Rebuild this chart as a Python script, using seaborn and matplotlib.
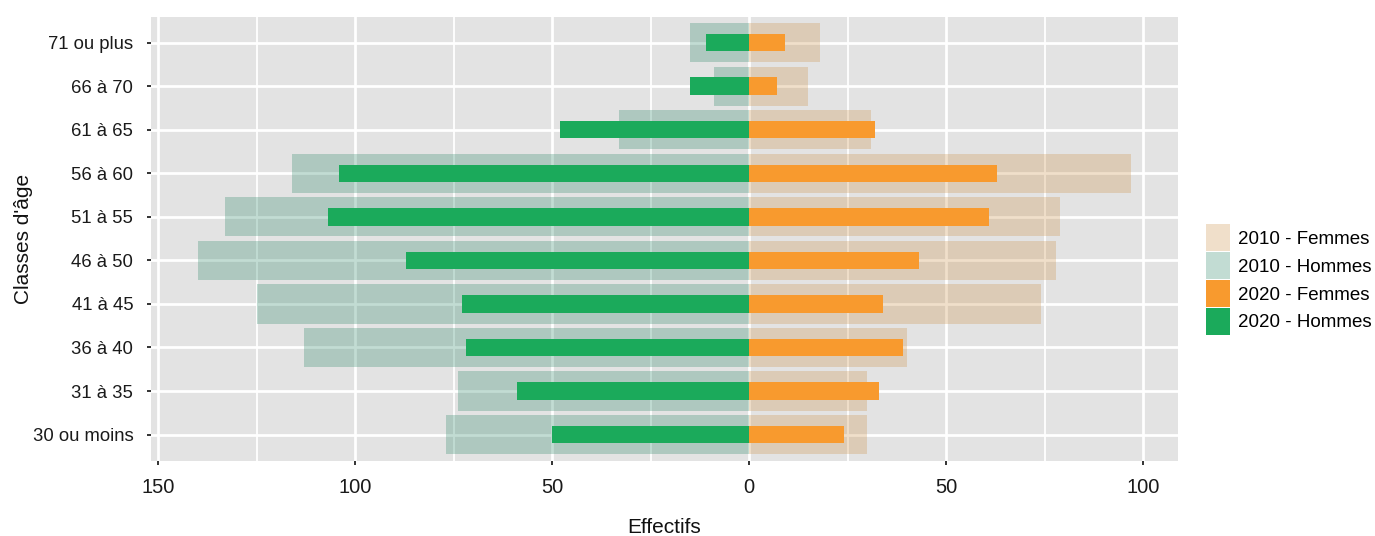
import pandas as pd
import matplotlib
matplotlib.use("Agg")
import matplotlib.pyplot as plt
import seaborn as sns
from matplotlib.patches import Patch
from matplotlib.ticker import FixedLocator

# Age classes (top to bottom)
ages = ["71 ou plus", "66 à 70", "61 à 65", "56 à 60", "51 à 55",
        "46 à 50", "41 à 45", "36 à 40", "31 à 35", "30 ou moins"]

hommes_2010 = [15, 9, 33, 116, 133, 140, 125, 113, 74, 77]
femmes_2010 = [18, 15, 31, 97, 79, 78, 74, 40, 30, 30]
hommes_2020 = [11, 15, 48, 104, 107, 87, 73, 72, 59, 50]
femmes_2020 = [9, 7, 32, 63, 61, 43, 34, 39, 33, 24]

x_ticks = [-150, -100, -50, 0, 50, 100]

col_f10 = "#CF9650"
col_h10 = "#358C6E"
col_f20 = "#F89A2E"
col_h20 = "#1BAA5B"

# long tables, men on the negative side
df10 = pd.DataFrame({
    "Age": ages * 2,
    "Effectif": [-v for v in hommes_2010] + femmes_2010,
    "Sexe": ["Hommes"] * len(ages) + ["Femmes"] * len(ages),
})
df20 = pd.DataFrame({
    "Age": ages * 2,
    "Effectif": [-v for v in hommes_2020] + femmes_2020,
    "Sexe": ["Hommes"] * len(ages) + ["Femmes"] * len(ages),
})

plt.rcParams["font.family"] = ["Liberation Sans", "DejaVu Sans"]

fig = plt.figure(figsize=(13.75, 5.36), dpi=100)
ax = fig.add_axes([0.1098, 0.1405, 0.7469, 0.8287])
ax.set_facecolor("#E3E3E3")

sns.barplot(data=df10, x="Effectif", y="Age", hue="Sexe", order=ages,
            palette={"Hommes": col_h10, "Femmes": col_f10}, dodge=False,
            width=0.9, alpha=0.3, errorbar=None, linewidth=0, legend=False,
            saturation=1, orient="h", ax=ax)
sns.barplot(data=df20, x="Effectif", y="Age", hue="Sexe", order=ages,
            palette={"Hommes": col_h20, "Femmes": col_f20}, dodge=False,
            width=0.4, errorbar=None, linewidth=0, legend=False,
            saturation=1, orient="h", ax=ax)

ax.set_xlim(-151.85, 108.85)
ax.set_ylim(len(ages) - 1 + 0.6, -0.6)
ax.set_xticks(x_ticks)
ax.set_xticklabels([str(abs(t)) for t in x_ticks])

# grid (ggplot-like)
ax.xaxis.set_minor_locator(FixedLocator([-125, -75, -25, 25, 75]))
ax.set_axisbelow(True)
ax.xaxis.grid(True, which="major", color="white", linewidth=2.0)
ax.xaxis.grid(True, which="minor", color="white", linewidth=1.3)
ax.yaxis.grid(True, which="major", color="white", linewidth=2.0)

for s in ax.spines.values():
    s.set_visible(False)
ax.tick_params(axis="both", which="major", length=3.2, width=1.4, color="#333333",
               labelcolor="#1A1A1A", pad=9.5)
ax.tick_params(axis="y", labelsize=13.3)
ax.tick_params(axis="x", labelsize=14.5)
ax.tick_params(axis="x", which="minor", length=0)

ax.set_xlabel("Effectifs", fontsize=15, color="#111111", labelpad=15)
ax.set_ylabel("Classes d'âge", fontsize=15, color="#111111")
ax.yaxis.set_label_coords(-0.1144, 0.5)

handles = [
    Patch(facecolor=col_f10, alpha=0.3, linewidth=0),
    Patch(facecolor=col_h10, alpha=0.3, linewidth=0),
    Patch(facecolor=col_f20, linewidth=0),
    Patch(facecolor=col_h20, linewidth=0),
]
labels = ["2010 - Femmes", "2010 - Hommes", "2020 - Femmes", "2020 - Hommes"]
fig.legend(handles, labels, loc="center left", bbox_to_anchor=(0.877, 0.4785),
           frameon=False, fontsize=13.5, handlelength=1.28, handleheight=1.84,
           labelspacing=0.05, handletextpad=0.43, borderpad=0, borderaxespad=0)

fig.savefig("out.png", dpi=100)
